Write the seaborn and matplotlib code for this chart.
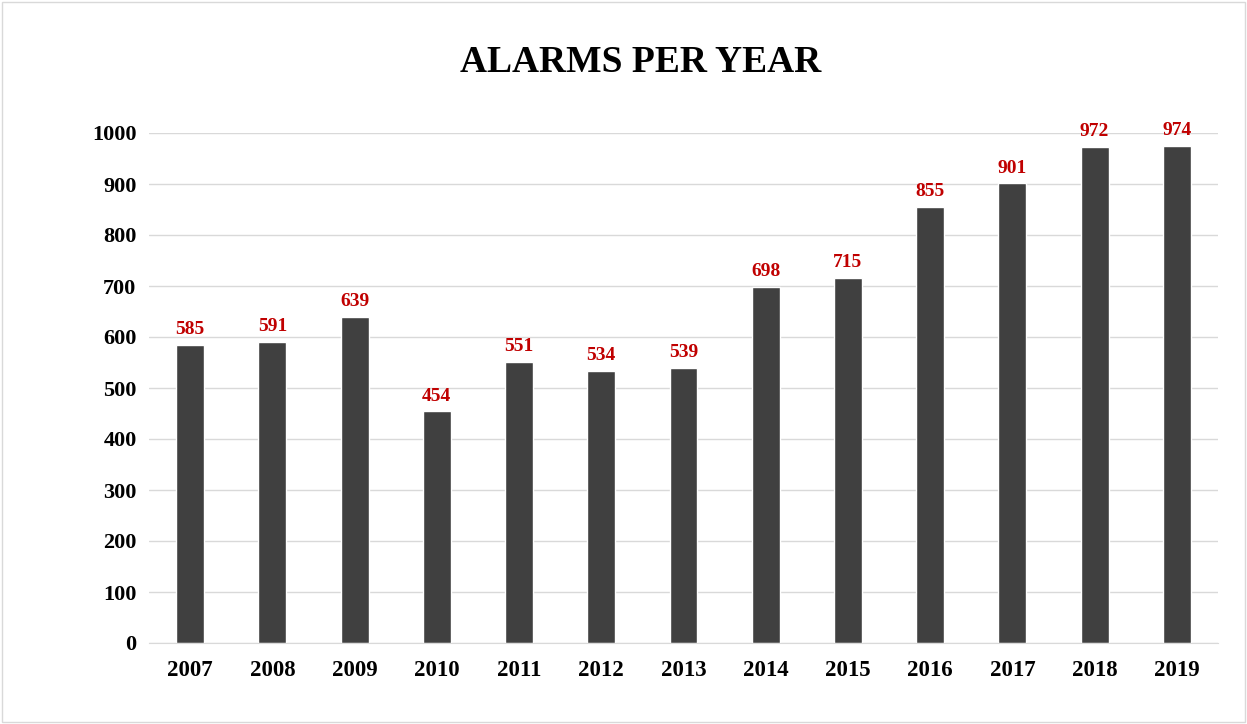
import matplotlib
matplotlib.use("Agg")
import matplotlib.pyplot as plt
import seaborn as sns
import pandas as pd
from matplotlib.patches import Rectangle

# values
years = ["2007", "2008", "2009", "2010", "2011", "2012", "2013",
         "2014", "2015", "2016", "2017", "2018", "2019"]
alarms = [585, 591, 639, 454, 551, 534, 539, 698, 715, 855, 901, 972, 974]
yticks = [0, 100, 200, 300, 400, 500, 600, 700, 800, 900, 1000]

df = pd.DataFrame({"year": years, "alarms": alarms})

sns.set_style("white")
plt.rcParams["font.family"] = ["Liberation Serif", "DejaVu Serif"]
plt.rcParams["font.weight"] = "bold"
plt.rcParams["text.color"] = "black"
plt.rcParams["xtick.color"] = "black"
plt.rcParams["ytick.color"] = "black"

fig = plt.figure(figsize=(12.47, 7.24), dpi=100)
ax = fig.add_axes([149 / 1247, 1 - 643 / 724, (1218 - 149) / 1247, (643 - 133) / 724])

sns.barplot(data=df, x="year", y="alarms", color="#404040", width=0.34,
            saturation=1, ax=ax)

ax.set_ylim(0, 1000)
ax.set_yticks(yticks)
ax.yaxis.grid(True, color="#D9D9D9", linewidth=1)
ax.set_axisbelow(True)
for s in ["top", "right", "left"]:
    ax.spines[s].set_visible(False)
ax.spines["bottom"].set_color("#D9D9D9")
ax.tick_params(axis="y", length=0, labelsize=16, pad=9, labelcolor="black")
ax.tick_params(axis="x", length=0, labelsize=16.5, pad=12, labelcolor="black")
for lab in ax.get_xticklabels() + ax.get_yticklabels():
    lab.set_fontweight("bold")
ax.set_xlabel("")
ax.set_ylabel("")

ax.bar_label(ax.containers[0], labels=[str(v) for v in alarms], padding=5,
             color="#C00000", fontsize=14, fontweight="bold")

fig.text(0.514, 1 - 62 / 724, "ALARMS PER YEAR", ha="center", va="center",
         fontsize=27, fontweight="bold", color="black")

fig.patches.append(Rectangle((2 / 1247, 2 / 724), 1243 / 1247, 720 / 724,
                             transform=fig.transFigure, fill=False,
                             edgecolor="#D9D9D9", linewidth=1))

fig.savefig("out.png", dpi=100)
